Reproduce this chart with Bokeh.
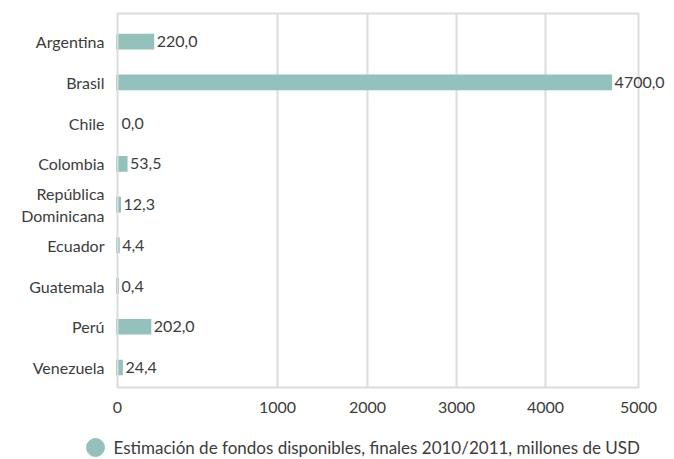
import numpy as np
from bokeh.plotting import figure
from bokeh.models import ColumnDataSource, Range1d, FixedTicker, Label, BoxAnnotation
from bokeh.layouts import column
from bokeh.core.properties import value
from bokeh.embed import file_html
from bokeh.resources import INLINE

# Data: estimated available funds, end 2010/2011 (USD millions)
countries = ["Argentina", "Brasil", "Chile", "Colombia", "República\nDominicana",
             "Ecuador", "Guatemala", "Perú", "Venezuela"]
funds = [220.0, 4700.0, 0.0, 53.5, 12.3, 4.4, 0.4, 202.0, 24.4]
legend_label = "Estimación de fondos disponibles, finales 2010/2011, millones de USD"

# Axis ticks and the (non-uniform) position each tick occupies on the value axis;
# the first interval is drawn wider than the others.
tick_values = [0, 1000, 2000, 3000, 4000, 5000]
tick_positions = [0, 160, 250, 339, 428, 521]

FONT = "Lato"
FONT_SIZE = "16px"
TEXT_COLOR = "#3c3c3c"
BAR_COLOR = "#95c1bc"
GRID_COLOR = "#dcdcdc"

funds_arr = np.array(funds)
idx = np.arange(len(countries))
bar_end = np.interp(funds_arr, tick_values, tick_positions)
value_text = [f"{v:.1f}".replace(".", ",") for v in funds]

# Chart box in data units; the plotting frame is a little larger so that the
# box border and the longest value label are not clipped.
box_top, box_bottom = -0.69, len(countries) - 1 + 0.49
pad_y = 0.123
x_lo, x_hi = -7, 557

src = ColumnDataSource(dict(
    y=idx,
    right=bar_end,
    line_alpha=np.where(funds_arr > 0, 1.0, 0.0),
))

p = figure(width=674, height=430, output_backend="svg", toolbar_location=None,
           x_range=Range1d(x_lo, x_hi),
           y_range=Range1d(box_bottom + pad_y, box_top - pad_y),
           min_border_left=110, min_border_right=0,
           min_border_top=8, min_border_bottom=38)
p.outline_line_color = None
p.background_fill_color = "white"
p.border_fill_color = "white"
p.grid.visible = False

# Vertical grid lines at the inner ticks, spanning the chart box
inner = tick_positions[1:-1]
p.segment(x0=inner, y0=[box_top] * len(inner), x1=inner, y1=[box_bottom] * len(inner),
          line_color=GRID_COLOR, line_width=2)

p.hbar(y="y", left=0, right="right", height=0.31, source=src,
       fill_color=BAR_COLOR, line_color=BAR_COLOR, line_width=3,
       line_join="miter", line_alpha="line_alpha")

# Box border
p.add_layout(BoxAnnotation(left=tick_positions[0], right=tick_positions[-1],
                           top=box_top, bottom=box_bottom,
                           fill_alpha=0, line_color=GRID_COLOR, line_width=2,
                           line_alpha=1))

# Value labels at the end of each bar
for xe, yi, txt in zip(bar_end, idx, value_text):
    p.add_layout(Label(x=float(xe), y=int(yi), text=txt, x_offset=4,
                       text_align="left", text_baseline="middle",
                       text_font=FONT, text_font_size=FONT_SIZE,
                       text_color=TEXT_COLOR))

# X axis with the custom tick layout
p.xaxis.ticker = FixedTicker(ticks=tick_positions)
p.xaxis.major_label_overrides = {pos: str(v) for pos, v in zip(tick_positions, tick_values)}
p.xaxis.axis_line_color = None
p.xaxis.major_tick_line_color = None
p.xaxis.minor_tick_line_color = None
p.xaxis.major_tick_out = 0
p.xaxis.major_tick_in = 0
p.xaxis.major_label_standoff = 9
p.xaxis.major_label_text_font = FONT
p.xaxis.major_label_text_font_size = FONT_SIZE
p.xaxis.major_label_text_color = TEXT_COLOR

# Y axis with country names
p.yaxis.ticker = FixedTicker(ticks=list(idx))
p.yaxis.major_label_overrides = {int(i): c for i, c in zip(idx, countries)}
p.yaxis.axis_line_color = None
p.yaxis.major_tick_line_color = None
p.yaxis.minor_tick_line_color = None
p.yaxis.major_tick_out = 0
p.yaxis.major_tick_in = 0
p.yaxis.major_label_standoff = 6
p.yaxis.major_label_text_font = FONT
p.yaxis.major_label_text_font_size = FONT_SIZE
p.yaxis.major_label_text_color = TEXT_COLOR
p.yaxis.major_label_text_align = "right"

# Legend strip below the chart
leg = figure(width=674, height=29, output_backend="svg", toolbar_location=None,
             x_range=Range1d(0, 674), y_range=Range1d(29, 0),
             min_border=0, outline_line_color=None)
leg.frame_align = False
leg.axis.visible = False
leg.grid.visible = False
leg.scatter(x=[95], y=[17], size=18, marker="circle",
            fill_color=BAR_COLOR, line_color=BAR_COLOR)
leg.text(x=[113], y=[17], text=[legend_label], text_align="left",
         text_baseline="middle", text_font=value(FONT), text_font_size="17px",
         text_color=TEXT_COLOR)

layout = column(p, leg, spacing=0)

with open("out.html", "w") as f:
    f.write(file_html(layout, INLINE))
